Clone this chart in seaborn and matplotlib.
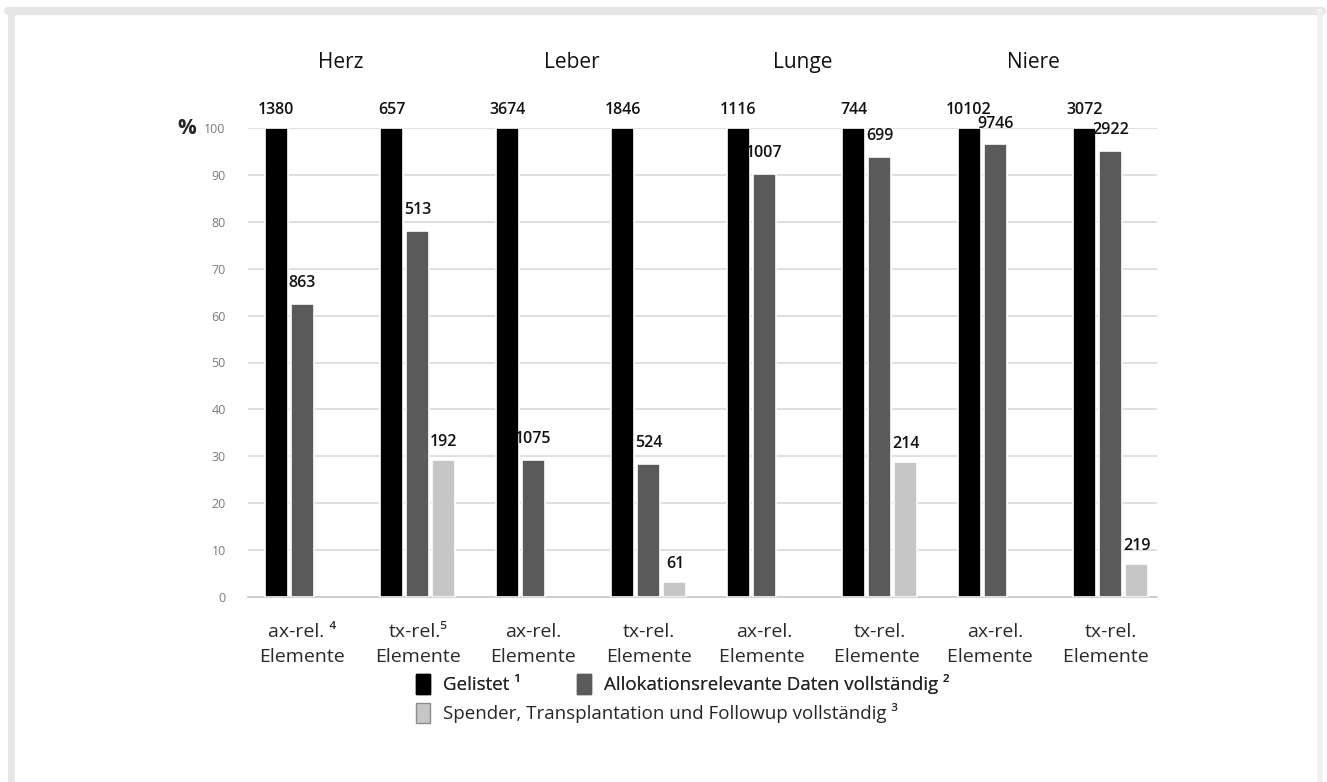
import pandas as pd
import matplotlib.pyplot as plt
import seaborn as sns
from matplotlib.patches import Patch
from matplotlib.lines import Line2D

# Categories (x axis) and organ groups
organs = ["Herz", "Leber", "Lunge", "Niere"]
categories = ["ax-rel. \u2074\nElemente", "tx-rel.\u2075\nElemente",
              "ax-rel.\nElemente", "tx-rel.\nElemente",
              "ax-rel.\nElemente ", "tx-rel.\nElemente ",
              "ax-rel.\nElemente  ", "tx-rel.\nElemente  "]

series = ["Gelistet \u00b9", "Allokationsrelevante Daten vollst\u00e4ndig \u00b2",
          "Spender, Transplantation und Followup vollst\u00e4ndig \u00b3"]

# Percentages (None = no bar)
pct_gelistet = [100, 100, 100, 100, 100, 100, 100, 100]
pct_alloc = [62.5, 78.1, 29.3, 28.4, 90.2, 93.9, 96.5, 95.1]
pct_followup = [None, 29.2, None, 3.3, None, 28.8, None, 7.1]

# Counts printed above the bars
n_gelistet = [1380, 657, 3674, 1846, 1116, 744, 10102, 3072]
n_alloc = [863, 513, 1075, 524, 1007, 699, 9746, 2922]
n_followup = [None, 192, None, 61, None, 214, None, 219]

colors = ["#000000", "#5a5a5a", "#c6c6c6"]

rows = []
for s, vals in zip(series, [pct_gelistet, pct_alloc, pct_followup]):
    for c, v in zip(categories, vals):
        if v is not None:
            rows.append({"cat": c, "series": s, "pct": v})
df = pd.DataFrame(rows)

sns.set_style("white")
plt.rcParams["font.family"] = ["Open Sans", "DejaVu Sans"]

fig = plt.figure(figsize=(13.27, 7.82), dpi=100)
W, H = 1327, 782
ax = fig.add_axes([248 / W, 1 - 597 / H, (1157 - 248) / W, (597 - 128) / H])

sns.barplot(data=df, x="cat", y="pct", hue="series", order=categories,
            hue_order=series, palette=colors, width=0.68, gap=0.12,
            edgecolor="white", linewidth=1.2, legend=False, ax=ax, zorder=3)

ax.set_ylim(0, 100)
ax.set_xlim(-0.47, 7.4)
ax.set_yticks(range(0, 101, 10))
ax.yaxis.grid(True, color="#d9d9d9", linewidth=1.2, zorder=0)
ax.set_axisbelow(True)
for sp in ["top", "right", "left"]:
    ax.spines[sp].set_visible(False)
ax.spines["bottom"].set_color("#c8c8c8")
ax.spines["bottom"].set_linewidth(1.2)
ax.tick_params(axis="y", length=0, pad=16, labelsize=9, labelcolor="#7a7a7a")
ax.tick_params(axis="x", length=0, pad=19, labelsize=14, labelcolor="#2a2a2a")
for t in ax.get_xticklabels():
    t.set_linespacing(1.45)
ax.set_xlabel("")
ax.set_ylabel("")
ax.text(-0.067, 1.0, "%", transform=ax.transAxes, fontsize=15, fontweight="bold",
        ha="center", va="center")

# count labels above bars
for cont, counts, pad in zip(ax.containers, [n_gelistet, n_alloc, n_followup], [7, 9, 7]):
    labs = [str(n) for n in counts if n is not None]
    ax.bar_label(cont, labels=labs, padding=pad, fontsize=11.5, fontweight="semibold",
                 color="#111111")

# organ headers
for i, org in enumerate(organs):
    ax.text(2 * i + 0.33, 1.14, org, transform=ax.get_xaxis_transform(),
            ha="center", va="center", fontsize=15, color="#111111")

# legend in two rows
handles = [Patch(facecolor=colors[0], edgecolor=colors[0]),
           Patch(facecolor=colors[1], edgecolor=colors[1]),
           Patch(facecolor=colors[2], edgecolor="#8c8c8c")]
leg_kw = dict(loc="center left", frameon=False, fontsize=13.5, handlelength=0.75,
              handleheight=1.3, handletextpad=0.7, borderpad=0, borderaxespad=0)
leg1 = fig.legend(handles[:2], series[:2], bbox_to_anchor=(416 / W, 1 - 684 / H),
                  ncol=2, columnspacing=3.0, **leg_kw)
fig.add_artist(leg1)
fig.legend(handles[2:], series[2:], bbox_to_anchor=(416 / W, 1 - 713 / H), **leg_kw)

# light grey frame of the screenshot
frame_c = "#e6e6e6"
fig.add_artist(Line2D([8 / W, 1322 / W], [1 - 11 / H, 1 - 11 / H], color=frame_c, lw=6,
                      transform=fig.transFigure))
fig.add_artist(Line2D([11 / W, 11 / W], [0, 1 - 11 / H], color=frame_c, lw=5,
                      transform=fig.transFigure))
fig.add_artist(Line2D([1320 / W, 1320 / W], [0, 1 - 11 / H], color="#f0f0f0", lw=4,
                      transform=fig.transFigure))

fig.savefig("out.png", dpi=100)
